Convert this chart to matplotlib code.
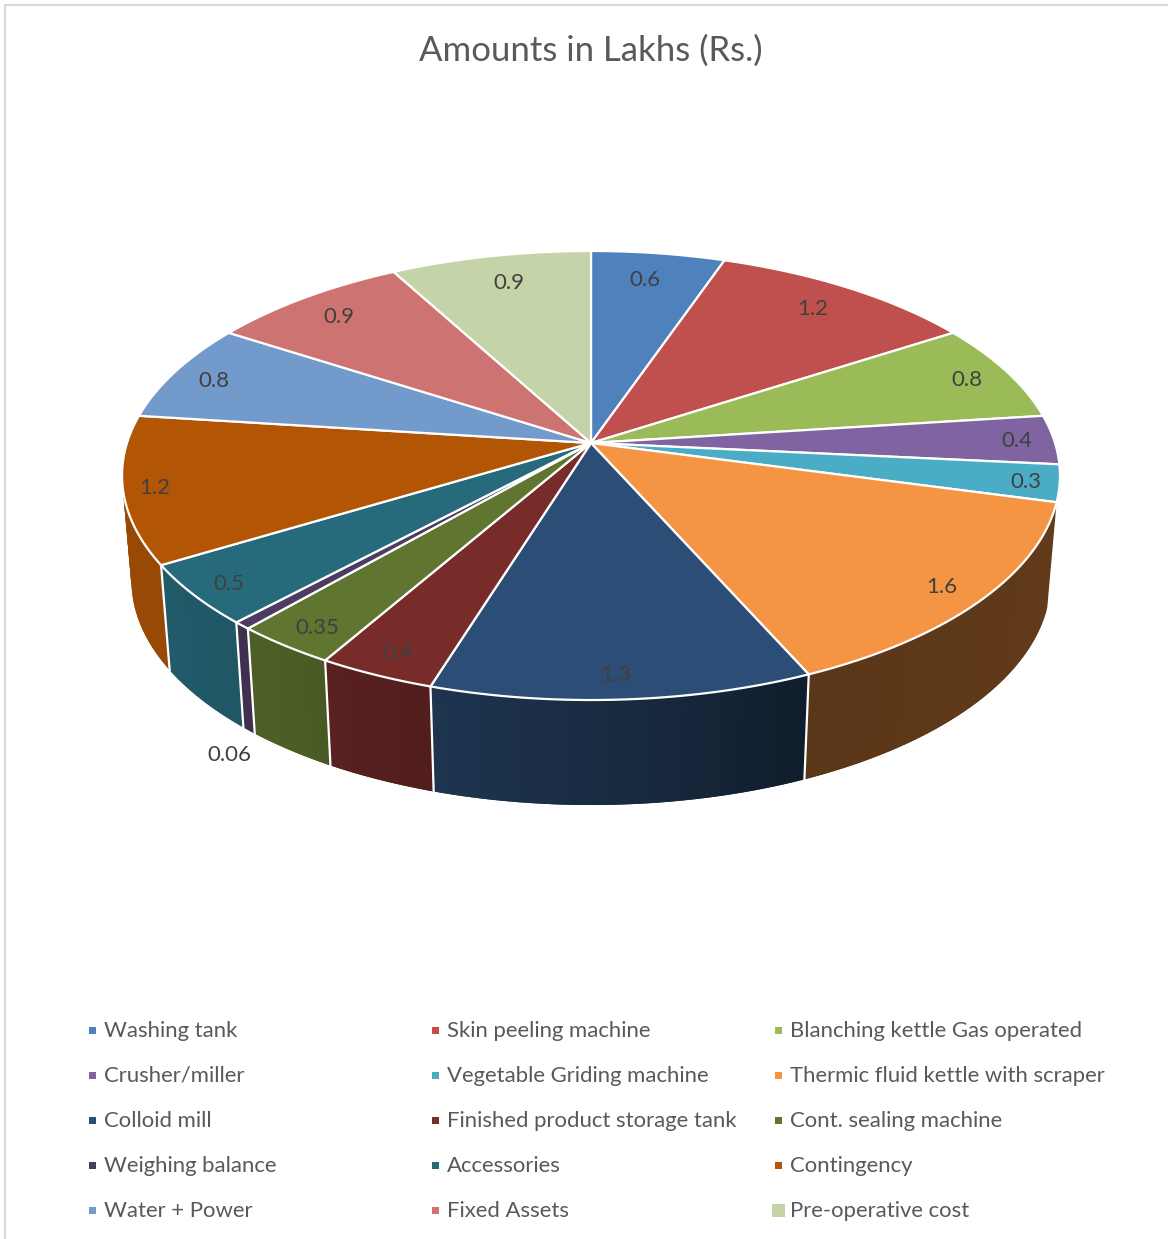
import matplotlib
matplotlib.use("Agg")
import matplotlib.pyplot as plt
import numpy as np

plt.rcParams['font.family'] = ['Lato', 'DejaVu Sans']

# Project cost data
labels = ["Washing tank", "Skin peeling machine", "Blanching kettle Gas operated",
          "Crusher/miller", "Vegetable Griding machine", "Thermic fluid kettle with scraper",
          "Colloid mill", "Finished product storage tank", "Cont. sealing machine",
          "Weighing balance", "Accessories", "Contingency",
          "Water + Power", "Fixed Assets", "Pre-operative cost"]
amounts = [0.6, 1.2, 0.8, 0.4, 0.3, 1.6, 1.3, 0.4, 0.35, 0.06, 0.5, 1.2, 0.8, 0.9, 0.9]
amount_text = ["0.6", "1.2", "0.8", "0.4", "0.3", "1.6", "1.3", "0.4", "0.35", "0.06",
               "0.5", "1.2", "0.8", "0.9", "0.9"]
colors = ["#4f81bd", "#c0504d", "#9bbb59", "#8064a2", "#4bacc6", "#f59443", "#2c4d75",
          "#772c2a", "#5f7530", "#4d3b62", "#276a7c", "#b25606", "#729aca", "#cd7371", "#c4d3a8"]

# How far out along each slice the value label sits (1 = rim), and a small angle nudge
label_radius = [0.85, 0.86, 0.90, 0.92, 0.93, 0.91, 0.91, 0.91, 0.91, 0.0,
                0.92, 0.935, 0.90, 0.87, 0.85]
label_nudge = [-0.7, -0.5, 0, -0.3, 0, 0, 0.4, 0, -0.3, 0, 0, 0, -0.3, 0, 0.8]

# Side wall lighting: brightness against angle clockwise from the top
shade_angle = [105, 156, 170, 197, 205, 215, 239, 280]
shade_level = [0.40, 0.37, 0.50, 0.68, 0.72, 0.80, 0.85, 0.85]

# Perspective of the disc on the page, in pixels
cx, cy = 591, 443
rx, ry = 464, 219.8
tilt = 0.1448
depth = 105
shrink = 0.98


def project(theta, r=1.0):
    t = np.radians(theta)
    u, v = r * np.sin(t), r * np.cos(t)
    d = 1 + tilt * v
    return cx + rx * u / d, cy - ry * v / d


def project_bottom(theta):
    x, y = project(theta)
    return cx + shrink * (x - cx), y + depth


def darker(hex_color, k):
    return tuple(c * k for c in matplotlib.colors.to_rgb(hex_color))


fig = plt.figure(figsize=(11.68, 12.39), dpi=100)
ax = fig.add_axes([0, 0, 1, 1])
ax.set_xlim(0, 1168)
ax.set_ylim(1239, 0)
ax.axis("off")

# chart frame
ax.plot([5, 5, 1168], [1239, 5, 5], color="#d9d9d9", lw=1.5, zorder=1)

ax.text(591, 51, "Amounts in Lakhs (Rs.)", fontsize=25, color="#595959",
        ha="center", va="center")

edges = np.cumsum([0] + amounts) / sum(amounts) * 360

# side walls, built up from strips that overlap so no seams show
for i, val in enumerate(amounts):
    a, b = edges[i], edges[i + 1]
    a, b = max(a, edges[5]), min(b, edges[12])
    if b <= a:
        continue
    steps = np.arange(a, b + 1, 1.0)
    steps[-1] = b
    for t0, t1 in zip(steps[:-1], steps[1:]):
        t_end = min(t1 + 1.0, edges[12])
        t = np.linspace(t0, t_end, 6)
        x0, y0 = project(t)
        x1, y1 = project_bottom(t)
        c = darker(colors[i], np.interp((t0 + t1) / 2, shade_angle, shade_level))
        ax.fill(np.r_[x0, x1[::-1]], np.r_[y0, y1[::-1]], color=c, lw=0, zorder=2)

# white seams between the wall pieces
for t in edges[6:12]:
    x0, y0 = project(t)
    x1, y1 = project_bottom(t)
    ax.plot([x0, x1], [y0, y1], color="white", lw=1.6, zorder=3)

# top face
for i, val in enumerate(amounts):
    t = np.linspace(edges[i], edges[i + 1], 80)
    x, y = project(t)
    ax.fill(np.r_[cx, x], np.r_[cy, y], facecolor=colors[i], edgecolor="white",
            lw=1.6, joinstyle="miter", zorder=4)

# value labels
for i, txt in enumerate(amount_text):
    mid = (edges[i] + edges[i + 1]) / 2 + label_nudge[i]
    if label_radius[i] > 0:
        x, y = project(mid, label_radius[i])
        y += 2
    else:
        # the thinnest slice has its label outside the pie
        x, y = 229, 755
    ax.text(x, y, txt, fontsize=16, color="#404040", ha="center", va="center", zorder=5)

# legend, three columns filled row by row
col_x = [92, 435, 778]
row_y = [1030, 1075, 1120, 1165, 1210]
for i, name in enumerate(labels):
    row, col = divmod(i, 3)
    size = 13 if i == 14 else 7
    ax.fill_between([col_x[col] - size / 2, col_x[col] + size / 2],
                    row_y[row] - size / 2, row_y[row] + size / 2,
                    color=colors[i], lw=0, zorder=5)
    ax.text(col_x[col] + 12, row_y[row] + 1, name, fontsize=15.9, color="#595959",
            ha="left", va="center", zorder=5)

fig.savefig("out.png", dpi=100)
